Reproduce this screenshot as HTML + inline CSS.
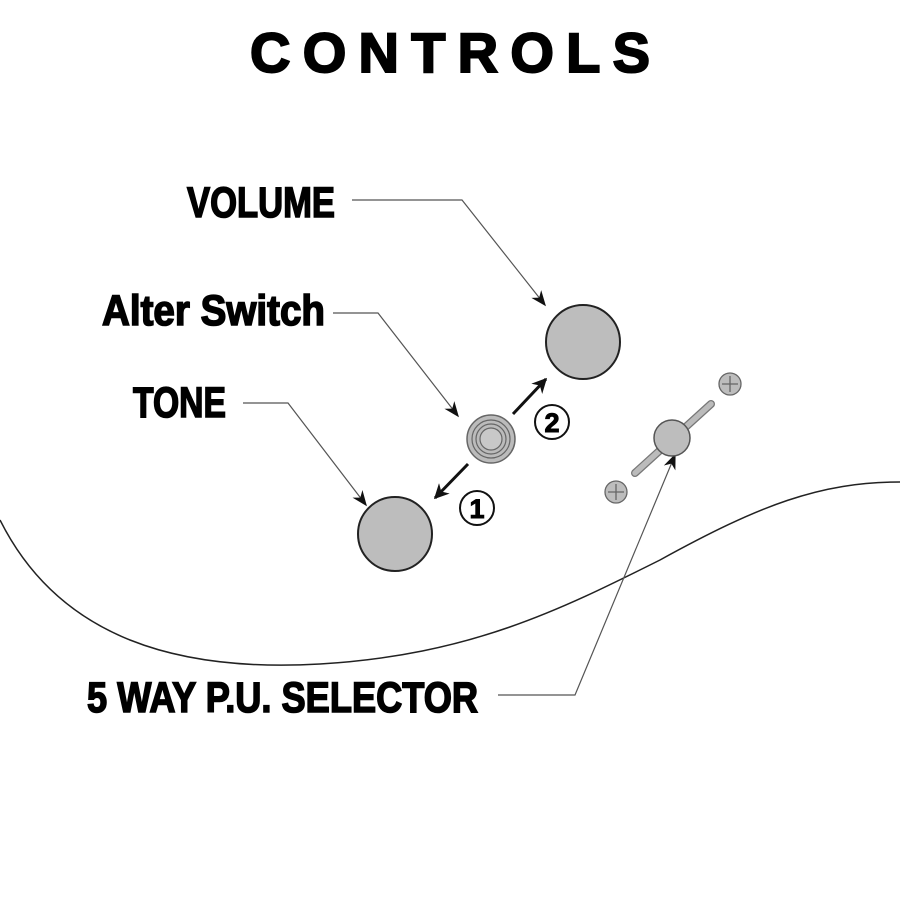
<!DOCTYPE html>
<html><head><meta charset="utf-8"><style>html,body{margin:0;padding:0;background:#fff}svg{display:block}</style></head>
<body>
<svg width="900" height="900" viewBox="0 0 900 900" xmlns="http://www.w3.org/2000/svg">
<defs>
<marker id="a" viewBox="0 0 10 10" refX="9" refY="5" markerWidth="5" markerHeight="5" orient="auto"><path d="M0,0 L10,5 L0,10 L3,5 z" fill="#111"/></marker>
<marker id="b" viewBox="0 0 10 10" refX="9" refY="5" markerWidth="13" markerHeight="13" orient="auto"><path d="M0,1 L10,5 L0,9 L3,5 z" fill="#111"/></marker>
</defs>
<g font-family="Liberation Sans, sans-serif" font-weight="bold" fill="#000" stroke="#000">
<text x="250" y="72" font-size="56" stroke-width="2" textLength="400" lengthAdjust="spacing">CONTROLS</text>
<g stroke-width="1.6">
<text x="187" y="217" font-size="43" textLength="148" lengthAdjust="spacingAndGlyphs">VOLUME</text>
<text x="102" y="325" font-size="43" textLength="223" lengthAdjust="spacingAndGlyphs">Alter Switch</text>
<text x="133" y="417" font-size="43" textLength="93" lengthAdjust="spacingAndGlyphs">TONE</text>
<text x="87" y="712" font-size="43" textLength="391" lengthAdjust="spacingAndGlyphs">5 WAY P.U. SELECTOR</text>
</g>
</g>
<path d="M0,520 C60,640 180,672 320,664 C470,655 560,610 660,560 C760,505 820,482 900,482" fill="none" stroke="#222" stroke-width="1.5"/>
<g fill="none" stroke="#555" stroke-width="1.2">
<polyline points="352,200 462,200 545,305" marker-end="url(#b)"/>
<polyline points="333,313 378,313 458,416" marker-end="url(#b)"/>
<polyline points="243,403 288,403 366,505" marker-end="url(#b)"/>
<polyline points="498,695 575,695 675,455" marker-end="url(#b)"/>
</g>
<g stroke="#111" stroke-width="3" fill="none">
<line x1="513" y1="414" x2="546" y2="379" marker-end="url(#a)"/>
<line x1="468" y1="464" x2="435" y2="498" marker-end="url(#a)"/>
</g>
<circle cx="583" cy="342" r="37" fill="#bdbdbd" stroke="#222" stroke-width="2"/>
<circle cx="395" cy="534" r="37" fill="#bdbdbd" stroke="#222" stroke-width="2"/>
<circle cx="491" cy="439" r="24" fill="#bbb" stroke="#666" stroke-width="1.5"/>
<circle cx="491" cy="439" r="19" fill="none" stroke="#666" stroke-width="1.2"/>
<circle cx="491" cy="439" r="15" fill="none" stroke="#666" stroke-width="1.2"/>
<circle cx="491" cy="439" r="11" fill="#c8c8c8" stroke="#666" stroke-width="1.2"/>
<line x1="635" y1="473" x2="711" y2="404" stroke="#777" stroke-width="8" stroke-linecap="round"/>
<line x1="635" y1="473" x2="711" y2="404" stroke="#bbb" stroke-width="5.5" stroke-linecap="round"/>
<circle cx="672" cy="438" r="18" fill="#bdbdbd" stroke="#555" stroke-width="1.5"/>
<g stroke="#666" stroke-width="1.3" fill="#bdbdbd">
<circle cx="616" cy="492" r="11"/><circle cx="730" cy="384" r="11"/>
<path d="M608,492 H624 M616,484 V500 M722,384 H738 M730,376 V392" fill="none"/>
</g>
<g font-family="Liberation Sans, sans-serif" font-weight="bold" font-size="27" text-anchor="middle">
<circle cx="552" cy="422" r="17" fill="#fff" stroke="#111" stroke-width="2"/>
<text x="552" y="432" stroke="#000" stroke-width="1">2</text>
<circle cx="477" cy="508" r="17" fill="#fff" stroke="#111" stroke-width="2"/>
<text x="477" y="518" stroke="#000" stroke-width="1">1</text>
</g>
</svg>
</body></html>
